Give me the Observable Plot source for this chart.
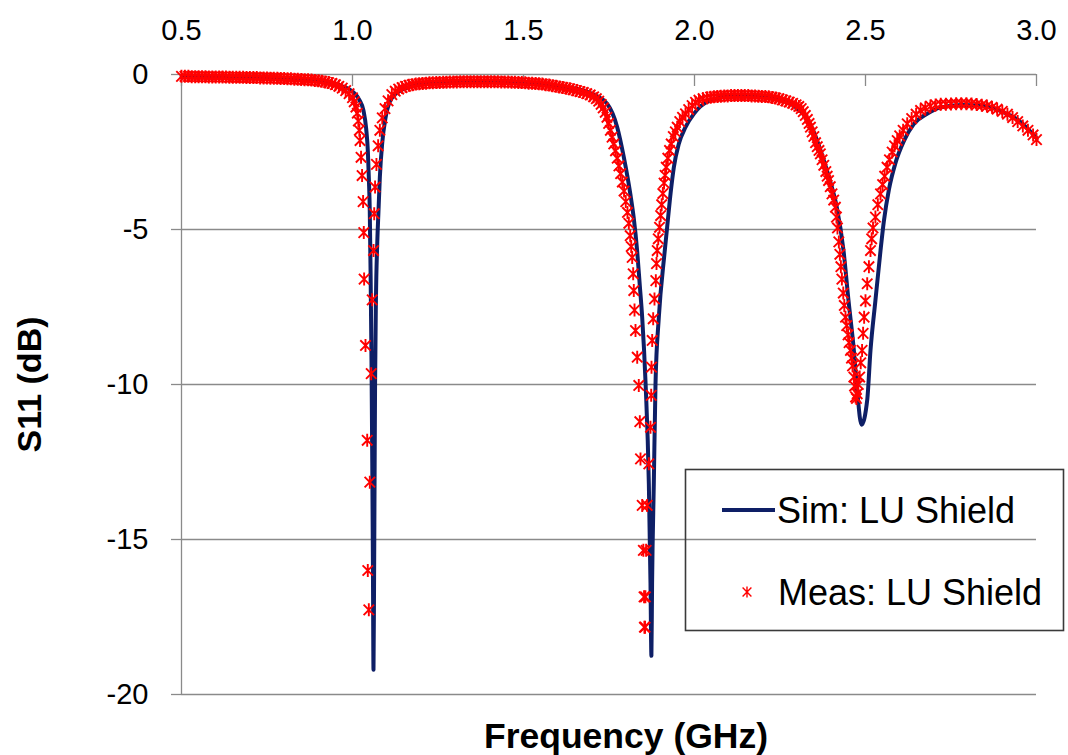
<!DOCTYPE html>
<html><head><meta charset="utf-8">
<script src="https://cdn.jsdelivr.net/npm/d3@7"></script>
<script src="https://cdn.jsdelivr.net/npm/@observablehq/plot@0.6"></script>
<style>body{margin:0;background:#fff;} #chart{position:relative;width:1068px;height:755px;overflow:hidden;}</style>
</head><body><div id="chart"></div>
<script>
const xTicks = [0.5, 1.0, 1.5, 2.0, 2.5, 3.0];
const yTicks = [0, -5, -10, -15, -20];
const seriesNames = ["Sim: LU Shield", "Meas: LU Shield"];
const xTitle = "Frequency (GHz)";
const yTitle = "S11 (dB)";

const simFreq = [0.50,0.60,0.70,0.80,0.88,0.93,0.97,1.00,1.02,1.032,1.040,1.045,1.048,1.0505,1.053,1.0555,1.0578,1.0598,1.0614,1.063,1.0645,1.066,1.0685,1.0725,1.076,1.080,1.087,1.0965,1.116,1.16,1.22,1.30,1.40,1.50,1.55,1.60,1.65,1.70,1.745,1.774,1.793,1.813,1.822,1.8324,1.840,1.847,1.857,1.8665,1.8713,1.874,1.876,1.881,1.886,1.8957,1.912,1.92,1.93,1.9396,1.954,1.9737,1.998,2.037,2.096,2.154,2.231,2.29,2.32,2.345,2.372,2.396,2.416,2.4357,2.4503,2.466,2.4757,2.4883,2.505,2.5146,2.529,2.5439,2.5535,2.5687,2.5877,2.612,2.641,2.68,2.72,2.78,2.84,2.90,2.95,3.00];
const simS11 = [-0.08,-0.08,-0.09,-0.12,-0.17,-0.25,-0.38,-0.55,-0.82,-1.16,-1.75,-2.5,-3.4,-4.4,-6.5,-9.2,-12.5,-16,-19.2,-16.5,-13.2,-10.0,-7.3,-5.4,-4.4,-3.3,-2.2,-1.4,-0.74,-0.42,-0.30,-0.25,-0.24,-0.27,-0.30,-0.38,-0.45,-0.62,-0.95,-1.7,-2.65,-3.9,-4.6,-5.7,-6.8,-7.83,-9.97,-13.2,-16.4,-18.75,-16.4,-13.2,-9.97,-7.83,-5.8,-4.93,-3.84,-2.99,-2.24,-1.7,-1.27,-0.88,-0.72,-0.70,-0.78,-1.0,-1.3,-1.75,-2.56,-3.42,-4.28,-5.68,-7.29,-8.9,-10.2,-11.3,-10.5,-8.9,-7.29,-5.68,-4.75,-3.7,-2.85,-2.15,-1.6,-1.27,-1.06,-0.98,-1.0,-1.2,-1.5,-2.05];

const measFreq = [0.50,0.51,0.52,0.53,0.54,0.55,0.56,0.57,0.58,0.59,0.60,0.61,0.62,0.63,0.64,0.65,0.66,0.67,0.68,0.69,0.70,0.71,0.72,0.73,0.74,0.75,0.76,0.77,0.78,0.79,0.80,0.81,0.82,0.83,0.84,0.85,0.86,0.87,0.88,0.89,0.90,0.91,0.92,0.93,0.94,0.95,0.96,0.97,0.98,0.99,1.00,1.005,1.010,1.014,1.017,1.020,1.022,1.025,1.028,1.031,1.033,1.034,1.038,1.043,1.0447,1.0477,1.0506,1.0547,1.0576,1.0615,1.0635,1.066,1.070,1.075,1.080,1.087,1.095,1.104,1.115,1.125,1.135,1.145,1.155,1.165,1.175,1.185,1.195,1.205,1.215,1.225,1.235,1.245,1.255,1.265,1.275,1.285,1.295,1.305,1.315,1.325,1.335,1.345,1.355,1.365,1.375,1.385,1.395,1.405,1.415,1.425,1.435,1.445,1.455,1.465,1.475,1.485,1.495,1.505,1.515,1.525,1.535,1.545,1.555,1.565,1.575,1.585,1.595,1.605,1.615,1.625,1.635,1.645,1.655,1.665,1.675,1.685,1.695,1.705,1.713,1.72,1.727,1.733,1.739,1.744,1.749,1.754,1.759,1.764,1.769,1.774,1.779,1.784,1.789,1.794,1.799,1.804,1.808,1.812,1.815,1.8178,1.8207,1.8225,1.8246,1.8275,1.8325,1.8371,1.8401,1.8421,1.8471,1.8505,1.8525,1.8535,1.8555,1.8565,1.8585,1.8617,1.8664,1.8713,1.8734,1.8743,1.8763,1.8792,1.883,1.8869,1.8889,1.891,1.894,1.8977,1.901,1.904,1.9074,1.911,1.914,1.9173,1.922,1.927,1.9319,1.938,1.944,1.9494,1.957,1.965,1.9737,1.983,1.993,2.003,2.013,2.025,2.037,2.047,2.057,2.067,2.077,2.087,2.097,2.107,2.117,2.127,2.137,2.147,2.157,2.167,2.177,2.187,2.197,2.207,2.217,2.227,2.237,2.247,2.257,2.267,2.277,2.287,2.297,2.305,2.312,2.318,2.324,2.33,2.335,2.339,2.344,2.349,2.354,2.359,2.364,2.368,2.373,2.378,2.384,2.388,2.392,2.397,2.402,2.407,2.412,2.415,2.418,2.422,2.425,2.428,2.431,2.435,2.438,2.4415,2.445,2.449,2.452,2.456,2.459,2.462,2.466,2.468,2.4708,2.4735,2.4757,2.479,2.483,2.486,2.49,2.493,2.496,2.500,2.505,2.510,2.5146,2.518,2.522,2.529,2.536,2.5439,2.550,2.556,2.563,2.570,2.578,2.585,2.5927,2.60,2.61,2.622,2.635,2.648,2.661,2.675,2.69,2.705,2.72,2.735,2.75,2.765,2.78,2.795,2.81,2.825,2.84,2.855,2.87,2.885,2.90,2.915,2.93,2.945,2.96,2.975,2.99,3.00];
const measS11 = [-0.06,-0.06,-0.06,-0.07,-0.07,-0.07,-0.07,-0.07,-0.08,-0.08,-0.08,-0.08,-0.08,-0.08,-0.09,-0.09,-0.09,-0.09,-0.09,-0.10,-0.10,-0.10,-0.10,-0.11,-0.11,-0.11,-0.12,-0.12,-0.12,-0.13,-0.13,-0.14,-0.14,-0.15,-0.15,-0.16,-0.17,-0.17,-0.18,-0.19,-0.20,-0.22,-0.24,-0.26,-0.29,-0.33,-0.38,-0.44,-0.52,-0.62,-0.75,-0.88,-1.05,-1.25,-1.5,-1.8,-2.13,-2.67,-3.26,-4.1,-5.1,-6.6,-8.74,-11.8,-16.0,-17.27,-13.15,-9.65,-7.27,-5.68,-4.49,-3.63,-2.9,-2.3,-1.8,-1.4,-1.1,-0.85,-0.65,-0.54,-0.47,-0.42,-0.38,-0.35,-0.33,-0.31,-0.30,-0.29,-0.28,-0.27,-0.27,-0.26,-0.26,-0.25,-0.25,-0.24,-0.24,-0.24,-0.23,-0.23,-0.23,-0.23,-0.23,-0.23,-0.23,-0.23,-0.23,-0.23,-0.23,-0.23,-0.24,-0.24,-0.24,-0.25,-0.25,-0.26,-0.26,-0.27,-0.28,-0.28,-0.29,-0.30,-0.31,-0.33,-0.34,-0.36,-0.38,-0.40,-0.42,-0.44,-0.46,-0.49,-0.52,-0.55,-0.58,-0.62,-0.66,-0.72,-0.78,-0.86,-0.96,-1.08,-1.22,-1.38,-1.58,-1.8,-2.02,-2.24,-2.46,-2.7,-2.95,-3.2,-3.47,-3.76,-4.1,-4.45,-4.8,-5.2,-5.55,-5.9,-6.43,-6.97,-7.6,-8.26,-9.12,-10.03,-11.2,-12.4,-13.9,-15.35,-16.85,-17.83,-17.83,-16.85,-15.35,-13.9,-12.56,-11.38,-10.35,-9.44,-8.58,-7.88,-7.24,-6.65,-6.1,-5.68,-5.3,-4.93,-4.55,-4.2,-3.84,-3.5,-3.25,-2.99,-2.7,-2.45,-2.24,-2.0,-1.85,-1.7,-1.52,-1.38,-1.27,-1.13,-1.0,-0.9,-0.83,-0.78,-0.75,-0.73,-0.72,-0.71,-0.70,-0.69,-0.69,-0.68,-0.68,-0.68,-0.68,-0.68,-0.68,-0.69,-0.69,-0.70,-0.71,-0.71,-0.72,-0.74,-0.76,-0.78,-0.82,-0.85,-0.89,-0.93,-0.98,-1.03,-1.1,-1.2,-1.32,-1.45,-1.58,-1.7,-1.85,-2.0,-2.2,-2.33,-2.45,-2.56,-2.75,-2.93,-3.13,-3.28,-3.42,-3.62,-3.85,-4.05,-4.28,-4.6,-4.95,-5.4,-5.8,-6.2,-6.6,-7.05,-7.45,-7.83,-8.1,-8.4,-8.65,-8.9,-9.15,-9.4,-9.76,-10.05,-10.4,-10.45,-10.3,-10.0,-9.76,-9.3,-8.9,-8.35,-7.83,-7.3,-6.75,-6.2,-5.68,-5.3,-4.95,-4.6,-4.2,-3.85,-3.55,-3.28,-2.99,-2.75,-2.5,-2.3,-2.13,-1.98,-1.8,-1.59,-1.42,-1.28,-1.16,-1.08,-1.02,-0.98,-0.96,-0.96,-0.95,-0.94,-0.94,-0.94,-0.95,-0.97,-0.99,-1.02,-1.06,-1.12,-1.19,-1.28,-1.39,-1.52,-1.66,-1.8,-1.95,-2.1];

const sim = simFreq.map((f, i) => ({f, v: simS11[i]}));
const meas = measFreq.map((f, i) => ({f, v: measS11[i]}));

const NAVY = "#0e1f66", RED = "#ff0000", GRID = "#8a8a8a";
const FONT = "'Liberation Sans', Arial, sans-serif";

// asterisk-like star marker (X plus vertical bar), as Excel draws it
const starSymbol = {
  draw(ctx, size) {
    const r = Math.sqrt(size / Math.PI);
    const a = r * 0.8;
    ctx.moveTo(0, -r); ctx.lineTo(0, r);
    ctx.moveTo(-a, -a); ctx.lineTo(a, a);
    ctx.moveTo(-a, a); ctx.lineTo(a, -a);
  }
};

const W = 1068, H = 755, mL = 181, mR = 32, mT = 74, mB = 61;
const innerH = H - mT - mB;

const plot = Plot.plot({
  width: W, height: H,
  marginLeft: mL, marginRight: mR, marginTop: mT, marginBottom: mB,
  style: {fontFamily: FONT, background: "white", overflow: "visible", color: "#000"},
  x: {domain: [0.5, 3.0]},
  y: {domain: [-20, 0]},
  marks: [
    Plot.ruleY(yTicks, {stroke: GRID, strokeWidth: 1.3}),
    Plot.ruleX([xTicks[0]], {stroke: GRID, strokeWidth: 1.3}),
    Plot.ruleX(xTicks, {stroke: GRID, strokeWidth: 1.3, insetBottom: innerH - 12}),
    Plot.axisX(xTicks, {anchor: "top", tickSize: 0, tickPadding: 35, fontSize: 29, tickFormat: d => d.toFixed(1), label: null}),
    Plot.axisY(yTicks, {anchor: "left", tickSize: 10, tickPadding: 23, fontSize: 29, stroke: GRID, strokeWidth: 1.3, tickFormat: d => String(d), label: null}),
    Plot.line(sim, {x: "f", y: "v", stroke: NAVY, strokeWidth: 4, curve: "monotone-x"}),
    Plot.dot(meas, {x: "f", y: "v", symbol: starSymbol, r: 6.5, stroke: RED, strokeWidth: 1.9, fill: "none"}),
    Plot.text([xTitle], {text: d => d, frameAnchor: "bottom", textAnchor: "middle", dy: 53, dx: 17, fontSize: 35.5, fontWeight: "bold"}),
    Plot.text([yTitle], {text: d => d, frameAnchor: "left", textAnchor: "middle", dx: -151, rotate: -90, fontSize: 34, fontWeight: "bold"})
  ]
});
document.getElementById("chart").appendChild(plot);

// legend box
const svg = d3.select(plot);
const lg = svg.append("g").attr("font-family", FONT).attr("text-anchor", "start");
lg.append("rect").attr("x", 685.5).attr("y", 469.5).attr("width", 378).attr("height", 161)
  .attr("fill", "none").attr("stroke", "#3a3a3a").attr("stroke-width", 1.6);
lg.append("line").attr("x1", 722).attr("x2", 775).attr("y1", 510).attr("y2", 510)
  .attr("stroke", NAVY).attr("stroke-width", 4);
lg.append("text").attr("x", 777).attr("y", 523).attr("font-size", 36).attr("fill", "#000").text(seriesNames[0]);
lg.append("path").attr("transform", "translate(747,592)")
  .attr("d", d3.symbol(starSymbol, 5.5 * 5.5 * Math.PI)())
  .attr("stroke", RED).attr("stroke-width", 1.4).attr("fill", "none");
lg.append("text").attr("x", 778).attr("y", 605).attr("font-size", 36).attr("fill", "#000").text(seriesNames[1]);
</script>
</body></html>
